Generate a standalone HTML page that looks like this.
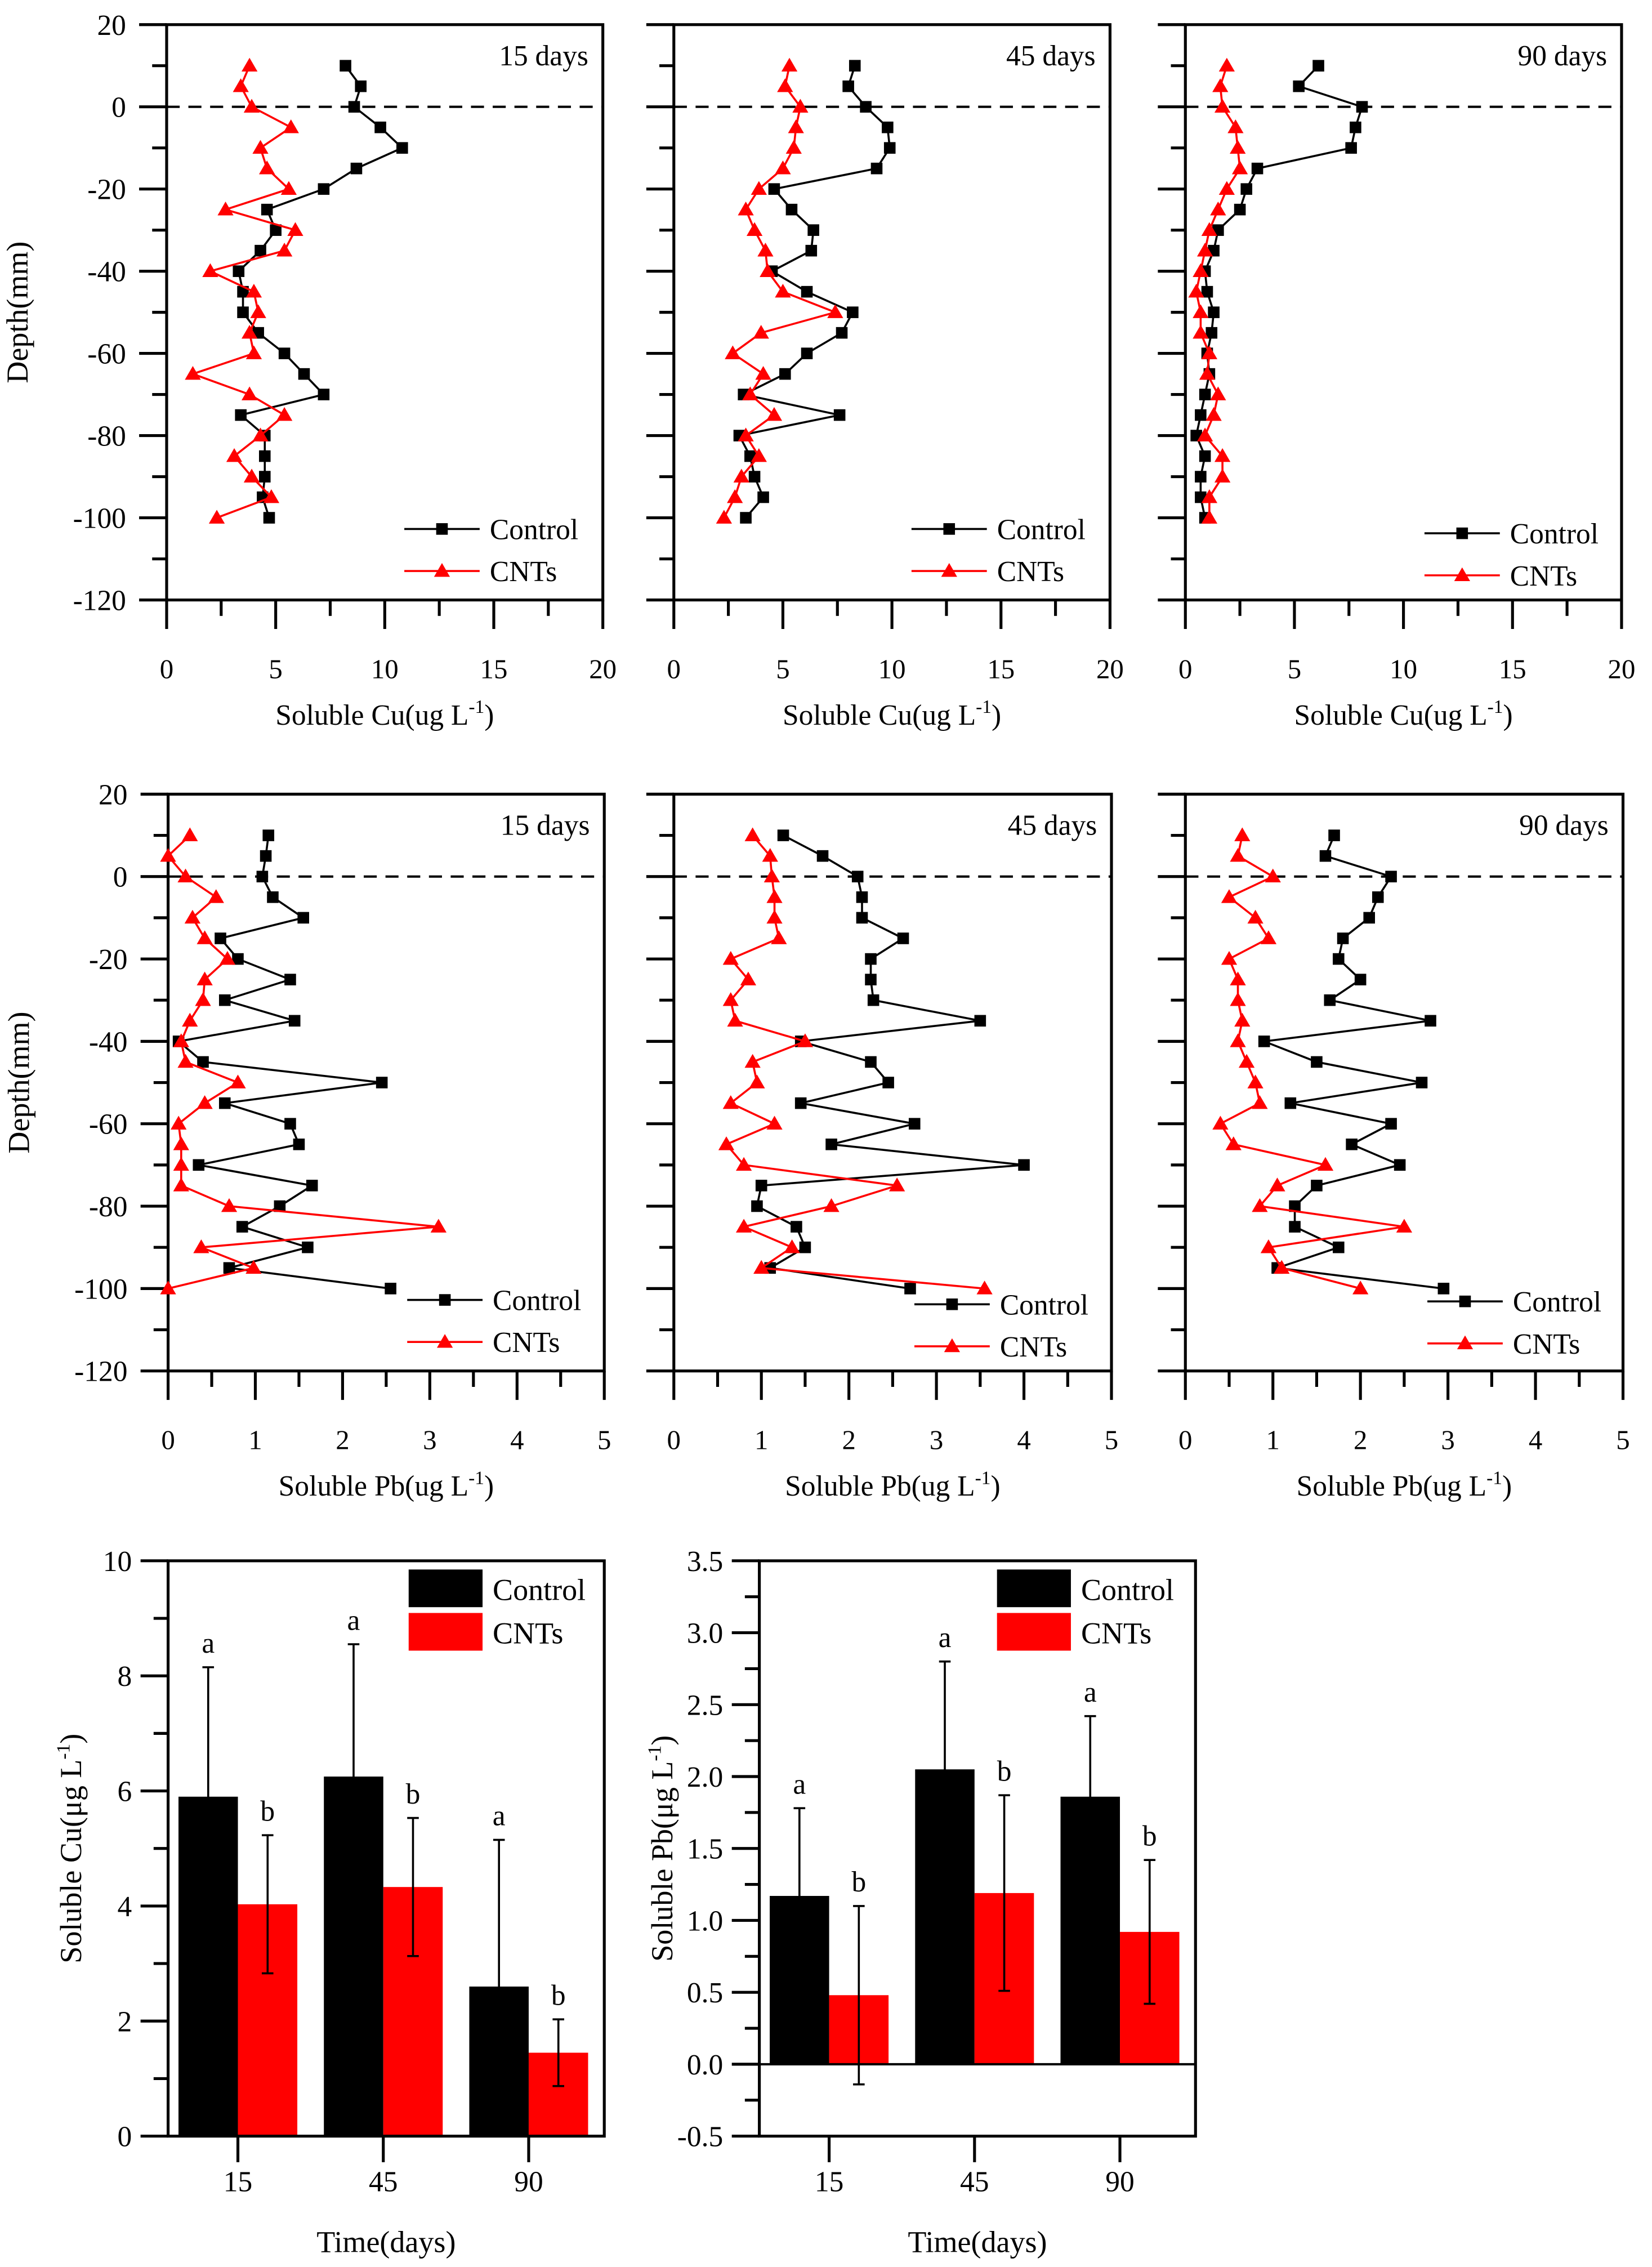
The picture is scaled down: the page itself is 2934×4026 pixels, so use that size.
<!DOCTYPE html>
<html><head><meta charset="utf-8"><style>
html,body{margin:0;padding:0;background:#fff;}
svg{display:block;font-family:"Liberation Serif","Times New Roman",serif;}
svg text{font-family:"Liberation Serif","Times New Roman",serif;fill:#000;}
</style></head><body>
<svg id="fig" xmlns="http://www.w3.org/2000/svg" width="2934" height="4026" viewBox="0 0 1140 1564.3" font-family="Liberation Serif, Times New Roman, serif"></svg>
<script>
// ---------- data ----------
const depths = [10,5,0,-5,-10,-15,-20,-25,-30,-35,-40,-45,-50,-55,-60,-65,-70,-75,-80,-85,-90,-95,-100];
const cu15Control = [8.2,8.9,8.6,9.8,10.8,8.7,7.2,4.6,5.0,4.3,3.3,3.5,3.5,4.2,5.4,6.3,7.2,3.4,4.5,4.5,4.5,4.4,4.7];
const cu15CNTs    = [3.8,3.4,3.9,5.7,4.3,4.6,5.6,2.7,5.9,5.4,2.0,4.0,4.2,3.8,4.0,1.2,3.8,5.4,4.3,3.1,3.9,4.8,2.3];
const cu45Control = [8.3,8.0,8.8,9.8,9.9,9.3,4.6,5.4,6.4,6.3,4.5,6.1,8.2,7.7,6.1,5.1,3.2,7.6,3.0,3.5,3.7,4.1,3.3];
const cu45CNTs    = [5.3,5.1,5.8,5.6,5.5,5.0,3.9,3.3,3.7,4.2,4.3,5.0,7.4,4.0,2.7,4.1,3.5,4.6,3.3,3.9,3.1,2.8,2.3];
const cu90Control = [6.1,5.2,8.1,7.8,7.6,3.3,2.8,2.5,1.5,1.3,0.9,1.0,1.3,1.2,1.0,1.1,0.9,0.7,0.5,0.9,0.7,0.7,0.9];
const cu90CNTs    = [1.9,1.6,1.7,2.3,2.4,2.5,1.9,1.5,1.1,0.9,0.7,0.5,0.7,0.7,1.1,1.0,1.5,1.3,0.9,1.7,1.7,1.1,1.1];
const pb15Control = [1.15,1.12,1.08,1.2,1.55,0.6,0.8,1.4,0.65,1.45,0.12,0.4,2.45,0.65,1.4,1.5,0.35,1.65,1.28,0.85,1.6,0.7,2.55];
const pb15CNTs    = [0.25,0.0,0.2,0.55,0.28,0.42,0.68,0.42,0.4,0.25,0.15,0.2,0.8,0.42,0.12,0.15,0.15,0.15,0.7,3.1,0.38,0.98,0.0];
const pb45Control = [1.25,1.7,2.1,2.15,2.15,2.62,2.25,2.25,2.28,3.5,1.45,2.25,2.45,1.45,2.75,1.8,4.0,1.0,0.95,1.4,1.5,1.1,2.7];
const pb45CNTs    = [0.9,1.1,1.12,1.15,1.15,1.2,0.65,0.85,0.65,0.7,1.5,0.9,0.95,0.65,1.15,0.6,0.8,2.55,1.8,0.8,1.35,1.0,3.55];
const pb90Control = [1.7,1.6,2.35,2.2,2.1,1.8,1.75,2.0,1.65,2.8,0.9,1.5,2.7,1.2,2.35,1.9,2.45,1.5,1.25,1.25,1.75,1.05,2.95];
const pb90CNTs    = [0.65,0.6,1.0,0.5,0.8,0.95,0.5,0.6,0.6,0.65,0.6,0.7,0.8,0.85,0.4,0.55,1.6,1.05,0.85,2.5,0.95,1.1,2.0];
const depthTicks = [20,0,-20,-40,-60,-80,-100,-120];
const cuTicks = [0,5,10,15,20];
const pbTicks = [0,1,2,3,4,5];
const barCats = ["15","45","90"];
const cuBarControl = [5.9,6.25,2.6];
const cuBarCNTs = [4.03,4.33,1.45];
const cuErrControl = [2.25,2.3,2.55];
const cuErrCNTs = [1.2,1.2,0.58];
const pbBarControl = [1.17,2.05,1.86];
const pbBarCNTs = [0.48,1.19,0.92];
const pbErrControl = [0.61,0.75,0.56];
const pbErrCNTs = [0.62,0.68,0.5];
const cuBarTicks = [0,2,4,6,8,10];
const pbBarTicks = [-0.5,0,0.5,1.0,1.5,2.0,2.5,3.0,3.5];

const NS="http://www.w3.org/2000/svg";
const FONT="Liberation Serif, Times New Roman, serif";
const fig=document.getElementById('fig');
function mk(tag,attrs,parent){const e=document.createElementNS(NS,tag);for(const k in attrs)e.setAttribute(k,attrs[k]);if(tag==='text')e.setAttribute('font-family',FONT);(parent||fig).appendChild(e);return e;}
function txt(x,y,s,size,anchor,parent){const t=mk('text',{x:x,y:y,'font-size':size,'text-anchor':anchor||'middle'},parent);t.textContent=s;return t;}

function profilePanel(name,x0,x1,yTop,yBot,xmax,xTicks,minorStep,ctrl,cnt,days,showY,xLabelHTML,legY,legX){
  const g=mk('g',{});
  
  
  const X=v=>x0+(x1-x0)*v/xmax;
  const Y=d=>yTop+(yBot-yTop)*(20-d)/140;
  const box=mk('rect',{x:x0,y:yTop,width:x1-x0,height:yBot-yTop,fill:'none',stroke:'#000','stroke-width':2},g);
  
  
  for(let d=20;d>=-120;d-=10){
    const major=(d%20===0);
    mk('line',{x1:x0-(major?19:10),x2:x0,y1:Y(d),y2:Y(d),stroke:'#000','stroke-width':2},g);
  }
  if(showY){
    depthTicks.forEach(d=>{const t=txt(x0-28,Y(d)+7,String(d),20,'end',g);
      
      });
    const yt=txt(0,0,'Depth(mm)',21,'middle',g);
    yt.setAttribute('transform',`translate(${x0-96},${(yTop+yBot)/2}) rotate(-90)`);
    
    
  }
  for(let v=0;v<=xmax+1e-9;v+=minorStep){
    const major=xTicks.some(t=>Math.abs(t-v)<1e-9);
    mk('line',{x1:X(v),x2:X(v),y1:yBot,y2:yBot+(major?20:11),stroke:'#000','stroke-width':2},g);
  }
  xTicks.forEach(v=>{const t=txt(X(v),yBot+54,String(v),19,'middle',g);
    
    });
  const xt=mk('text',{x:(x0+x1)/2,y:yBot+86,'font-size':20,'text-anchor':'middle'},g);
  xt.innerHTML=xLabelHTML;
  
  
  const z=mk('line',{x1:x0,x2:x1,y1:Y(0),y2:Y(0),stroke:'#000','stroke-width':1.6,'stroke-dasharray':'9,6'},g);
  
  
  const dl=txt(x1-10,yTop+28,days,20,'end',g);
  
  
  function series(vals,color,marker,sname){
    const sg=mk('g',{},g);
    
    
    const pts=vals.map((v,i)=>X(v)+','+Y(depths[i])).join(' ');
    mk('polyline',{points:pts,fill:'none',stroke:color,'stroke-width':1.4},sg);
    vals.forEach((v,i)=>{
      const cx=X(v),cy=Y(depths[i]);let m;
      if(marker==='sq') m=mk('rect',{x:cx-4,y:cy-4,width:8,height:8,fill:color},sg);
      else m=mk('polygon',{points:`${cx},${cy-5.5} ${cx-5.5},${cy+4} ${cx+5.5},${cy+4}`,fill:color},sg);
      
      
    });
  }
  series(ctrl,'#000','sq','control-series');
  series(cnt,'#ff0000','tri','cnts-series');
  const lg=mk('g',{},g);
  
  
  mk('line',{x1:legX,x2:legX+52,y1:legY,y2:legY,stroke:'#000','stroke-width':1.4},lg);
  mk('rect',{x:legX+22,y:legY-4,width:8,height:8,fill:'#000'},lg);
  txt(legX+59,legY+7,'Control',20,'start',lg);
  mk('line',{x1:legX,x2:legX+52,y1:legY+29,y2:legY+29,stroke:'#ff0000','stroke-width':1.4},lg);
  mk('polygon',{points:`${legX+26},${legY+23.5} ${legX+20.5},${legY+33} ${legX+31.5},${legY+33}`,fill:'#ff0000'},lg);
  txt(legX+59,legY+36,'CNTs',20,'start',lg);
}
const cuLab='Soluble Cu(ug L<tspan dy="-8" font-size="13">-1</tspan><tspan dy="8">)</tspan>';
const pbLab='Soluble Pb(ug L<tspan dy="-8" font-size="13">-1</tspan><tspan dy="8">)</tspan>';
profilePanel('cu-15-days-panel',115,416,17,414,20,cuTicks,2.5,cu15Control,cu15CNTs,'15 days',true,cuLab,365,279);
profilePanel('cu-45-days-panel',465,766,17,414,20,cuTicks,2.5,cu45Control,cu45CNTs,'45 days',false,cuLab,365,629);
profilePanel('cu-90-days-panel',818,1119,17,414,20,cuTicks,2.5,cu90Control,cu90CNTs,'90 days',false,cuLab,368,983);
profilePanel('pb-15-days-panel',116,417,548,946,5,pbTicks,0.5,pb15Control,pb15CNTs,'15 days',true,pbLab,897,281);
profilePanel('pb-45-days-panel',465,767,548,946,5,pbTicks,0.5,pb45Control,pb45CNTs,'45 days',false,pbLab,900,631);
profilePanel('pb-90-days-panel',818,1120,548,946,5,pbTicks,0.5,pb90Control,pb90CNTs,'90 days',false,pbLab,898,985);

function barPanel(name,x0,x1,yTop,yBot,ymin,ymax,ticks,minorStep,ctrl,cnt,eC,eN,yLabHTML,legX,tickFmt,zeroLine){
  const g=mk('g',{});
  
  
  const Y=v=>yBot-(yBot-yTop)*(v-ymin)/(ymax-ymin);
  const step=(x1-x0)/3;
  const C=i=>x0+step*(i+0.5)-2;
  const bw=41;
  for(let v=ymin;v<=ymax+1e-9;v+=minorStep){
    const major=ticks.some(t=>Math.abs(t-v)<1e-9);
    mk('line',{x1:x0-(major?19:10),x2:x0,y1:Y(v),y2:Y(v),stroke:'#000','stroke-width':2},g);
  }
  ticks.forEach(v=>{const t=txt(x0-25,Y(v)+7,tickFmt(v),20,'end',g);
    
    });
  const yt=mk('text',{'font-size':21,'text-anchor':'middle',transform:`translate(${x0-60},${(yTop+yBot)/2}) rotate(-90)`},g);
  yt.innerHTML=yLabHTML;
  
  
  barCats.forEach((c,i)=>{
    mk('line',{x1:C(i),x2:C(i),y1:yBot,y2:yBot+18,stroke:'#000','stroke-width':2},g);
    const t=txt(C(i),yBot+38,c,20,'middle',g);
    
    
  });
  const xt=txt((x0+x1)/2,yBot+80,'Time(days)',21,'middle',g);
  
  
  const z0=Y(0);
  barCats.forEach((c,i)=>{
    [[ctrl,eC,'#000',-bw,'a','control-bar'],[cnt,eN,'#ff0000',0,'b','cnts-bar']].forEach(([vals,errs,col,off,letter,bn])=>{
      const v=vals[i];const bx=C(i)+off;
      const r=mk('rect',{x:bx,y:Y(v),width:bw,height:z0-Y(v),fill:col},g);
      
      
      const cx=bx+bw/2;
      const eg=mk('g',{stroke:'#000','stroke-width':1.4},g);
      
      
      mk('line',{x1:cx,x2:cx,y1:Y(v+errs[i]),y2:Y(v-errs[i])},eg);
      mk('line',{x1:cx-4,x2:cx+4,y1:Y(v+errs[i]),y2:Y(v+errs[i])},eg);
      mk('line',{x1:cx-4,x2:cx+4,y1:Y(v-errs[i]),y2:Y(v-errs[i])},eg);
      const lt=txt(cx,Y(v+errs[i])-10,letter,20,'middle',g);
      
      
    });
  });
  if(zeroLine) mk('line',{x1:x0,x2:x1,y1:z0,y2:z0,stroke:'#000','stroke-width':1.6},g);
  mk('rect',{x:x0,y:yTop,width:x1-x0,height:yBot-yTop,fill:'none',stroke:'#000','stroke-width':2},g);
  const lg=mk('g',{},g);
  
  
  mk('rect',{x:legX,y:yTop+6,width:51,height:26,fill:'#000'},lg);
  txt(legX+58,yTop+27,'Control',21,'start',lg);
  mk('rect',{x:legX,y:yTop+36,width:51,height:26,fill:'#ff0000'},lg);
  txt(legX+58,yTop+57,'CNTs',21,'start',lg);
}
barPanel('cu-bar-chart',116,417,1077,1474,0,10,cuBarTicks,1,cuBarControl,cuBarCNTs,cuErrControl,cuErrCNTs,
 'Soluble Cu(μg L<tspan dy="-8" font-size="13">-1</tspan><tspan dy="8">)</tspan>',282,v=>String(v),false);
barPanel('pb-bar-chart',524,825,1077,1474,-0.5,3.5,pbBarTicks,0.25,pbBarControl,pbBarCNTs,pbErrControl,pbErrCNTs,
 'Soluble Pb(μg L<tspan dy="-8" font-size="13">-1</tspan><tspan dy="8">)</tspan>',688,v=>v.toFixed(1),true);
</script>
</body></html>
